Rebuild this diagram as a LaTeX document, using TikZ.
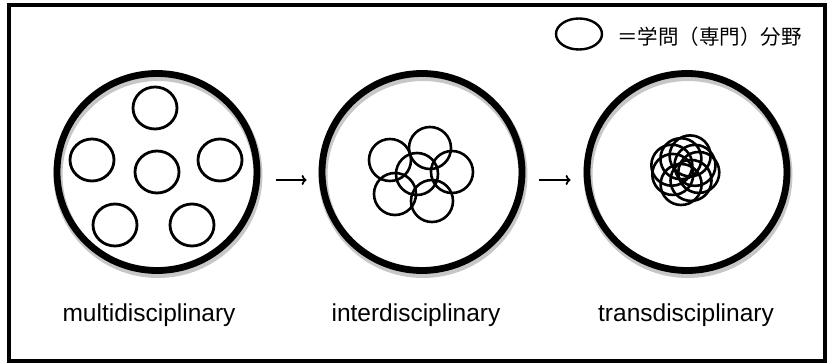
\documentclass[tikz,border=0pt]{standalone}
\usepackage{fontspec}
\setmainfont{Liberation Sans}
\newfontfamily\cjk{Noto Sans CJK JP}
\usetikzlibrary{shapes.geometric,arrows.meta,calc}
\begin{document}
\begin{tikzpicture}[x=1pt,y=-1pt,
  big/.style={ellipse,draw=black,line width=6.8pt,minimum width=200pt,minimum height=197pt,inner sep=0pt},
  shade/.style={ellipse,draw=black!22,line width=9pt,minimum width=200pt,minimum height=197pt,inner sep=0pt},
  small/.style={ellipse,draw=black,line width=2.8pt,minimum width=44pt,minimum height=42pt,inner sep=0pt},
  tiny/.style={circle,draw=black,line width=2.6pt,minimum size=42pt,inner sep=0pt},
  arr/.style={line width=1.8pt,-{To[length=5pt,width=10pt]}},
  lab/.style={font=\fontsize{24.5}{28}\selectfont,anchor=base}]
\useasboundingbox (0,0) rectangle (828,363);
\draw[line width=4pt] (9,5) rectangle (825,361);
% legend
\node[ellipse,draw=black,line width=2.4pt,minimum width=46pt,minimum height=31pt,inner sep=0pt] (leg) at (579,34) {};
\node[anchor=west,font=\cjk\fontsize{20.5}{24}\selectfont,inner sep=0pt] (legt) at (617,37) {＝学問（専門）分野};
% shadows
\node[shade] (s1) at (158,175) {};
\node[shade] (s2) at (423,175) {};
\node[shade] (s3) at (688,175) {};
% big circles
\node[big] (c1) at (157,172) {};
\node[big] (c2) at (422,172) {};
\node[big] (c3) at (687,172) {};
% multidisciplinary
\node[small] (m1) at (155,108) {};
\node[small] (m2) at (92,160) {};
\node[small] (m3) at (157,172) {};
\node[small] (m4) at (220,160) {};
\node[small] (m5) at (115,225) {};
\node[small] (m6) at (192,225) {};
% interdisciplinary
\node[tiny] (i1) at (390,160) {};
\node[tiny] (i2) at (430,148) {};
\node[tiny] (i3) at (452,172) {};
\node[tiny] (i4) at (432,201) {};
\node[tiny] (i5) at (395,194) {};
\node[tiny] (i6) at (417,174) {};
% transdisciplinary
\foreach \a/\d [count=\k] in {10/14,60/12,105/15,160/13,200/14,250/12,290/15,335/11}{
  \node[tiny,minimum size=41pt] (t\k) at ($(685,170)+(\a:\d)$) {};
}
% arrows
\draw[arr] ($(c1.east)+(16,8)$) -- ($(c2.west)+(-12,8)$);
\draw[arr] ($(c2.east)+(14,8)$) -- ($(c3.west)+(-13,8)$);
% labels
\node[lab] (l1) at (149,322) {multidisciplinary};
\node[lab] (l2) at (416,322) {interdisciplinary};
\node[lab] (l3) at (686,322) {transdisciplinary};
\end{tikzpicture}
\end{document}
